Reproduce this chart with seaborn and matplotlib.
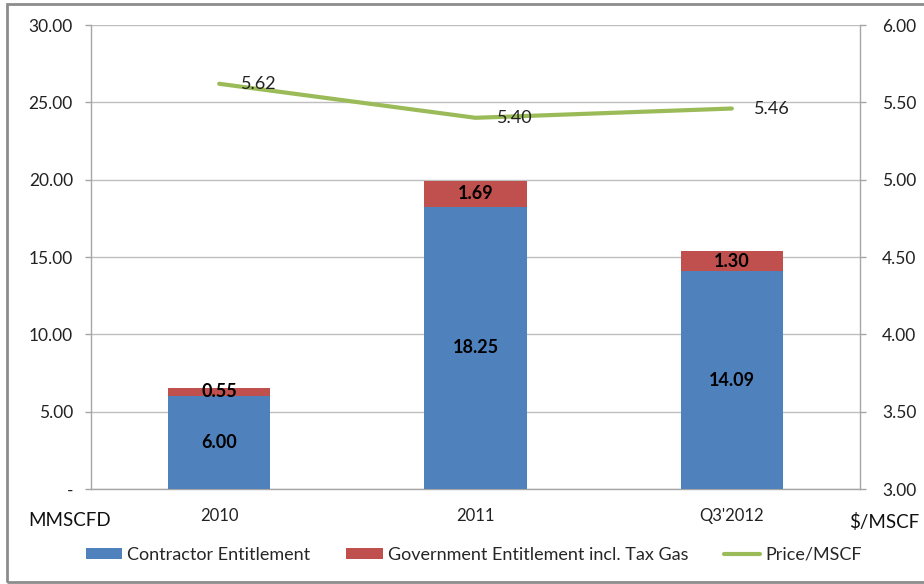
import numpy as np
import pandas as pd
import matplotlib
matplotlib.use("Agg")
import matplotlib.pyplot as plt
from matplotlib.patches import Patch
from matplotlib.lines import Line2D
import seaborn as sns

periods = ["2010", "2011", "Q3'2012"]
contractor = [6.00, 18.25, 14.09]
government = [0.55, 1.69, 1.30]
price = [5.62, 5.40, 5.46]

left_ticks = [0, 5, 10, 15, 20, 25, 30]
right_ticks = [3.0, 3.5, 4.0, 4.5, 5.0, 5.5, 6.0]

BLUE = "#4F81BD"
RED = "#C0504D"
GREEN = "#9BBB59"
GRID = "#BEBEBE"
AXIS = "#A6A6A6"

sns.set_theme(style="white")
plt.rcParams["font.family"] = ["Lato", "DejaVu Sans"]

df = pd.DataFrame({
    "period": periods,
    "contractor": contractor,
    "government": government,
    "price": price,
})
df["total"] = df["contractor"] + df["government"]

fig = plt.figure(figsize=(9.24, 5.84), dpi=100)
ax = fig.add_axes([91 / 924, 1 - 489 / 584, (860 - 91) / 924, (489 - 25) / 584])

# stacked bars: full height in red, contractor share in blue over it
sns.barplot(data=df, x="period", y="total", color=RED, width=0.40,
            saturation=1, linewidth=0, ax=ax, zorder=2)
sns.barplot(data=df, x="period", y="contractor", color=BLUE, width=0.40,
            saturation=1, linewidth=0, ax=ax, zorder=3)

ax.set_ylim(0, 30)
ax.set_xlim(-0.5, len(periods) - 0.5)
ax.set_yticks(left_ticks)
ax.set_yticklabels(["-" if v == 0 else f"{v:.2f}" for v in left_ticks])
ax.yaxis.grid(True, color=GRID, linewidth=1)
ax.set_axisbelow(True)
ax.set_xlabel("")
ax.set_ylabel("")

# category labels centred, tick marks on the category boundaries
ax.set_xticks(range(len(periods)))
ax.set_xticklabels(periods)
ax.tick_params(axis="x", which="major", length=0, pad=14, labelsize=12, colors="#222222")
ax.set_xticks(np.arange(-0.5, len(periods), 1.0), minor=True)
ax.tick_params(axis="x", which="minor", length=4, color=AXIS, width=1)
ax.tick_params(axis="y", length=4, color=AXIS, width=1, labelsize=12.5,
               pad=9, left=True, labelcolor="#222222")

for side in ["top", "right"]:
    ax.spines[side].set_visible(False)
for side in ["left", "bottom"]:
    ax.spines[side].set_color(AXIS)
    ax.spines[side].set_linewidth(1)

# value labels inside each segment
for i, row in df.iterrows():
    ax.text(i, row["contractor"] / 2, f"{row['contractor']:.2f}", ha="center",
            va="center", fontsize=13, fontweight="bold", color="black", zorder=5)
    ax.text(i, row["contractor"] + row["government"] / 2, f"{row['government']:.2f}",
            ha="center", va="center", fontsize=13, fontweight="bold",
            color="black", zorder=5)

# price line on the secondary axis
ax2 = ax.twinx()
sns.lineplot(x=np.arange(len(periods)), y=df["price"], color=GREEN,
             linewidth=3, ax=ax2, zorder=3)
ax2.set_ylim(3.0, 6.0)
ax2.set_yticks(right_ticks)
ax2.set_yticklabels([f"{v:.2f}" for v in right_ticks])
ax2.set_ylabel("")
ax2.tick_params(axis="y", length=4, color=AXIS, width=1, labelsize=12.5,
                pad=12, right=True, labelcolor="#222222")
for side in ["top", "left", "bottom"]:
    ax2.spines[side].set_visible(False)
ax2.spines["right"].set_color(AXIS)
ax2.spines["right"].set_linewidth(1)
ax2.grid(False)
for i, p in enumerate(price):
    ax2.text(i + 0.085, p, f"{p:.2f}", ha="left", va="center",
             fontsize=13, color="#222222", zorder=6)

# unit captions under each value axis
fig.text(28 / 924, 1 - 520 / 584, "MMSCFD", ha="left", va="center",
         fontsize=13.5, color="#111111")
fig.text(884 / 924, 1 - 522 / 584, "$/MSCF", ha="center", va="center",
         fontsize=13.5, color="#111111")

handles = [
    Patch(facecolor=BLUE, edgecolor="none", label="Contractor Entitlement"),
    Patch(facecolor=RED, edgecolor="none", label="Government Entitlement incl. Tax Gas"),
    Line2D([0], [0], color=GREEN, linewidth=3, label="Price/MSCF"),
]
fig.legend(handles=handles, loc="center", bbox_to_anchor=(474 / 924, 1 - 555 / 584),
           ncol=3, frameon=False, fontsize=13, handlelength=2.0,
           handleheight=0.6, handletextpad=0.28, columnspacing=2.0)

# chart frame
frame = plt.Rectangle((7 / 924, 1 - 582 / 584), 1.2, (582 - 4) / 584,
                      transform=fig.transFigure, fill=False,
                      edgecolor="#8C8C8C", linewidth=2)
fig.add_artist(frame)

fig.savefig("out.png", dpi=100)
